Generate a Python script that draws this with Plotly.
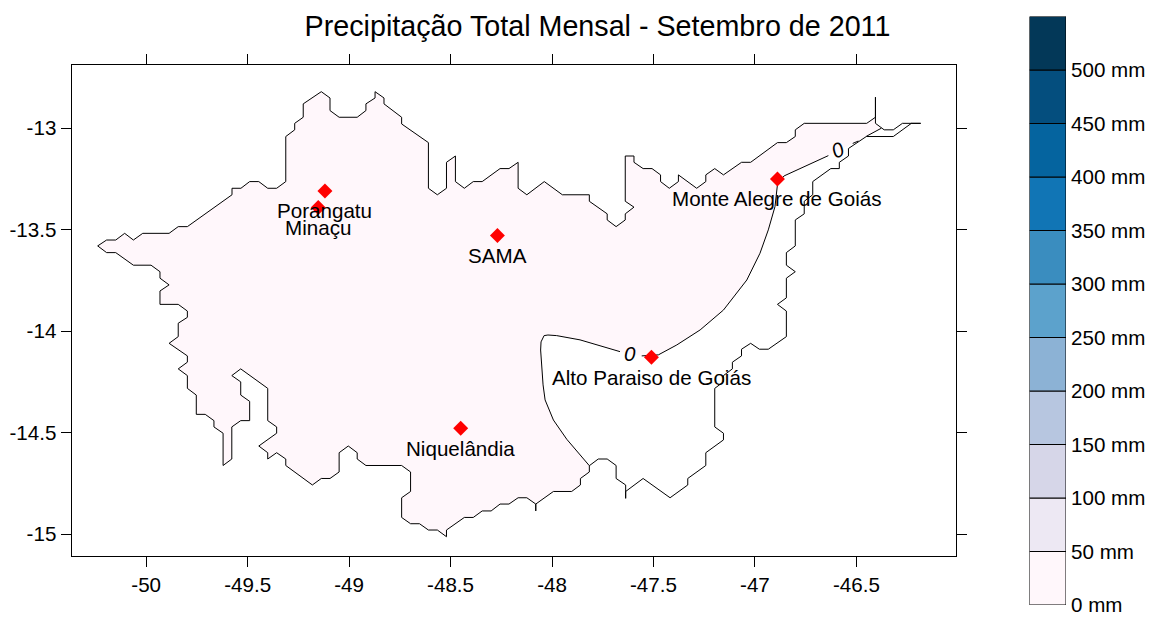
import plotly.graph_objects as go

title = "Precipitação Total Mensal - Setembro de 2011"
font_name = "Liberation Sans"

north_lon = [-50.239,-50.195,-50.150,-50.106,-50.063,-50.017,-49.887,-49.842,-49.797,-49.577,-49.577,-49.533,-49.490,-49.445,-49.401,-49.357,-49.312,-49.312,-49.268,-49.268,-49.226,-49.226,-49.137,-49.094,-49.094,-49.049,-48.960,-48.917,-48.917,-48.872,-48.872,-48.828,-48.828,-48.741,-48.741,-48.609,-48.609,-48.565,-48.520,-48.520,-48.476,-48.476,-48.432,-48.388,-48.344,-48.256,-48.212,-48.167,-48.167,-48.124,-48.038,-47.949,-47.816,-47.816,-47.728,-47.728,-47.684,-47.639,-47.639,-47.596,-47.639,-47.639,-47.596,-47.596,-47.551,-47.507,-47.465,-47.465,-47.422,-47.377,-47.377,-47.287,-47.242,-47.242,-47.198,-47.155,-47.066,-47.021,-46.889,-46.845,-46.801,-46.801,-46.757,-46.449,-46.406,-46.406,-46.406]
north_lat = [-13.580,-13.551,-13.551,-13.518,-13.551,-13.518,-13.518,-13.485,-13.485,-13.328,-13.296,-13.296,-13.263,-13.263,-13.296,-13.296,-13.263,-13.041,-13.008,-12.976,-12.946,-12.880,-12.820,-12.851,-12.913,-12.946,-12.946,-12.913,-12.880,-12.851,-12.820,-12.851,-12.880,-12.946,-12.979,-13.071,-13.296,-13.328,-13.296,-13.168,-13.137,-13.263,-13.296,-13.263,-13.263,-13.199,-13.199,-13.168,-13.296,-13.328,-13.263,-13.328,-13.328,-13.360,-13.422,-13.452,-13.485,-13.452,-13.422,-13.389,-13.360,-13.137,-13.137,-13.168,-13.199,-13.199,-13.230,-13.263,-13.296,-13.263,-13.230,-13.296,-13.263,-13.230,-13.199,-13.230,-13.168,-13.168,-13.071,-13.071,-13.041,-13.008,-12.976,-12.976,-12.946,-12.847,-12.976]

east_lon = [-46.406,-46.363,-46.318,-46.273,-46.183,-46.229,-46.318,-46.451,-46.539,-46.539,-46.584,-46.584,-46.626,-46.715,-46.715,-46.757,-46.757,-46.801,-46.801,-46.845,-46.845,-46.801,-46.845,-46.845,-46.889,-46.845,-46.845,-46.934,-46.978,-47.021,-47.066,-47.066,-47.111,-47.111,-47.155,-47.155,-47.198,-47.198,-47.155,-47.155,-47.242,-47.242,-47.331,-47.331,-47.418,-47.551,-47.637,-47.637,-47.637,-47.684,-47.684,-47.728,-47.772,-47.816]
east_lat = [-12.976,-13.008,-13.008,-12.976,-12.976,-12.976,-13.041,-13.041,-13.100,-13.137,-13.168,-13.199,-13.199,-13.263,-13.328,-13.360,-13.422,-13.452,-13.580,-13.613,-13.675,-13.707,-13.739,-13.836,-13.868,-13.901,-14.027,-14.089,-14.089,-14.060,-14.089,-14.122,-14.153,-14.186,-14.219,-14.250,-14.282,-14.472,-14.503,-14.536,-14.599,-14.662,-14.726,-14.758,-14.821,-14.726,-14.790,-14.824,-14.758,-14.726,-14.662,-14.630,-14.630,-14.663]

south_lon = [-47.816,-47.816,-47.860,-47.860,-47.903,-47.993,-48.080,-48.080,-48.080,-48.124,-48.167,-48.212,-48.256,-48.300,-48.344,-48.388,-48.432,-48.520,-48.520,-48.565,-48.609,-48.653,-48.697,-48.741,-48.741,-48.697,-48.697,-48.741,-48.917,-48.960,-48.960,-49.004,-49.049,-49.049,-49.094,-49.137,-49.181,-49.312,-49.312,-49.357,-49.401,-49.401,-49.445,-49.357,-49.357,-49.401,-49.401,-49.534,-49.578,-49.534,-49.534,-49.490,-49.490,-49.534,-49.578,-49.578,-49.621,-49.621,-49.666,-49.666,-49.709,-49.753,-49.753,-49.797,-49.797,-49.842,-49.797,-49.797,-49.887,-49.842,-49.842,-49.797,-49.797,-49.842,-49.932,-49.932,-49.887,-49.932,-49.932,-49.976,-50.063,-50.150,-50.195,-50.239]
south_lat = [-14.663,-14.694,-14.726,-14.758,-14.790,-14.790,-14.852,-14.886,-14.852,-14.821,-14.821,-14.852,-14.852,-14.886,-14.886,-14.918,-14.918,-14.980,-15.013,-14.980,-14.980,-14.949,-14.949,-14.918,-14.821,-14.790,-14.694,-14.662,-14.662,-14.630,-14.599,-14.566,-14.599,-14.694,-14.726,-14.726,-14.758,-14.662,-14.630,-14.599,-14.630,-14.599,-14.566,-14.503,-14.472,-14.441,-14.282,-14.186,-14.219,-14.250,-14.315,-14.346,-14.441,-14.441,-14.472,-14.630,-14.662,-14.503,-14.472,-14.441,-14.410,-14.410,-14.315,-14.282,-14.219,-14.186,-14.153,-14.122,-14.060,-14.027,-13.961,-13.932,-13.901,-13.868,-13.868,-13.802,-13.772,-13.739,-13.707,-13.675,-13.675,-13.613,-13.613,-13.580]

# Zero-precipitation isohyet, listed from the south-west end to the north-east end
contour_w_lon = [-47.816,-47.927,-47.993,-48.034,-48.044,-48.051,-48.056,-48.054,-48.039,-48.020,-47.977,-47.862,-47.763,-47.665]
contour_w_lat = [-14.663,-14.533,-14.438,-14.339,-14.265,-14.158,-14.093,-14.053,-14.022,-14.019,-14.022,-14.043,-14.073,-14.101]
contour_m_lon = [-47.558,-47.476,-47.385,-47.270,-47.155,-47.040,-46.975,-46.934,-46.901,-46.888,-46.856,-46.748,-46.638]
contour_m_lat = [-14.122,-14.117,-14.068,-13.994,-13.896,-13.748,-13.616,-13.501,-13.386,-13.270,-13.235,-13.186,-13.135]
contour_e_lon = [-46.518,-46.490]
contour_e_lat = [-13.075,-13.063]
contour_ne_lon = [-46.451,-46.377]
contour_ne_lat = [-13.040,-13.000]

station_names = ["Porangatu", "Minaçu", "SAMA", "Monte Alegre de Goiás", "Alto Paraiso de Goiás", "Niquelândia"]
station_lon = [-49.119, -49.152, -48.269, -46.889, -47.510, -48.450]
station_lat = [-13.309, -13.391, -13.529, -13.250, -14.129, -14.479]

x_ticks = [-50, -49.5, -49, -48.5, -48, -47.5, -47, -46.5]
x_tick_labels = ["-50", "-49.5", "-49", "-48.5", "-48", "-47.5", "-47", "-46.5"]
y_ticks = [-13, -13.5, -14, -14.5, -15]
y_tick_labels = ["-13", "-13.5", "-14", "-14.5", "-15"]

level_edges = [0, 50, 100, 150, 200, 250, 300, 350, 400, 450, 500, 550]
level_labels = ["0 mm", "50 mm", "100 mm", "150 mm", "200 mm", "250 mm", "300 mm", "350 mm", "400 mm", "450 mm", "500 mm"]
level_colors = ["#FFF7FB", "#EDE8F3", "#D6D6E8", "#B7C6E0", "#8CB2D5", "#5CA2CC", "#3A8DBF", "#1175B5", "#05649F", "#044E7E", "#033858"]

contour_all_lon = contour_w_lon + contour_m_lon + contour_e_lon + contour_ne_lon
contour_all_lat = contour_w_lat + contour_m_lat + contour_e_lat + contour_ne_lat

W, H = 1155, 619
FS = 20.6
fig = go.Figure()

fill_lon = north_lon + contour_all_lon[::-1] + south_lon
fill_lat = north_lat + contour_all_lat[::-1] + south_lat
fig.add_trace(go.Scatter(x=fill_lon, y=fill_lat, mode="lines", fill="toself", fillcolor=level_colors[0],
                         line=dict(width=0), hoverinfo="skip", showlegend=False))
for xs, ys in [(north_lon, north_lat), (east_lon, east_lat), (south_lon, south_lat),
               (contour_w_lon, contour_w_lat), (contour_m_lon, contour_m_lat),
               (contour_e_lon, contour_e_lat), (contour_ne_lon, contour_ne_lat)]:
    fig.add_trace(go.Scatter(x=xs, y=ys, mode="lines", line=dict(color="black", width=1),
                             hoverinfo="skip", showlegend=False))
fig.add_trace(go.Scatter(x=station_lon, y=station_lat, mode="markers",
                         marker=dict(symbol="diamond", color="#FF0000", size=11.5, line=dict(width=0)),
                         text=station_names, hoverinfo="text", showlegend=False))

fig.add_trace(go.Bar(x=[0] * len(level_colors),
                     y=[b - a for a, b in zip(level_edges[:-1], level_edges[1:])],
                     base=level_edges[:-1], width=1,
                     marker=dict(color=level_colors, line=dict(color="black", width=1)),
                     xaxis="x2", yaxis="y2", hoverinfo="skip", showlegend=False))

annotations = []
for name, lon, lat in zip(station_names, station_lon, station_lat):
    annotations.append(dict(x=lon, y=lat, xref="x", yref="y", text=name, showarrow=False, yshift=-20,
                            xanchor="center", yanchor="middle",
                            font=dict(family=font_name, size=FS, color="black")))
annotations.append(dict(x=-47.615, y=-14.108, xref="x", yref="y", text="<i>0</i>", showarrow=False,
                        font=dict(family=font_name, size=FS, color="black")))
annotations.append(dict(x=-46.590, y=-13.107, xref="x", yref="y", text="<i>0</i>", showarrow=False, textangle=-25,
                        font=dict(family=font_name, size=FS, color="black")))

axis_style = dict(showgrid=False, zeroline=False, showline=True, linecolor="black", linewidth=1,
                  mirror="ticks", ticks="outside", ticklen=10, tickcolor="black", tickwidth=1,
                  automargin=False, tickfont=dict(family=font_name, size=FS, color="black"))

fig.update_layout(
    width=W, height=H, margin=dict(l=0, r=0, t=0, b=0), autosize=False,
    paper_bgcolor="white", plot_bgcolor="white", showlegend=False,
    title=dict(text=title, x=597.5 / W, xanchor="center", y=1 - 26 / H, yanchor="middle",
               font=dict(family=font_name, size=28.7, color="black")),
    xaxis=dict(domain=[71.5 / W, 956 / W], range=[-50.368, -46.009], tickmode="array",
               tickvals=x_ticks, ticktext=x_tick_labels, **axis_style),
    yaxis=dict(domain=[(H - 556) / H, (H - 65.3) / H], range=[-15.108, -12.690], tickmode="array",
               tickvals=y_ticks, ticktext=y_tick_labels, **axis_style),
    xaxis2=dict(domain=[1029.5 / W, 1066 / W], range=[-0.5, 0.5], anchor="y2", visible=False, automargin=False),
    yaxis2=dict(domain=[(H - 605) / H, (H - 16.5) / H], range=[0, 550], anchor="x2", side="right",
                position=1066 / W, tickmode="array", tickvals=level_edges[:-1], ticktext=level_labels,
                ticks="", showgrid=False, zeroline=False, showline=False, ticklabelstandoff=4, automargin=False,
                tickfont=dict(family=font_name, size=FS, color="black")),
    annotations=annotations,
)

fig.write_html("out.html", config={"displayModeBar": False, "responsive": False},
               post_script="document.body.style.margin='0';document.body.style.overflow='hidden';")
